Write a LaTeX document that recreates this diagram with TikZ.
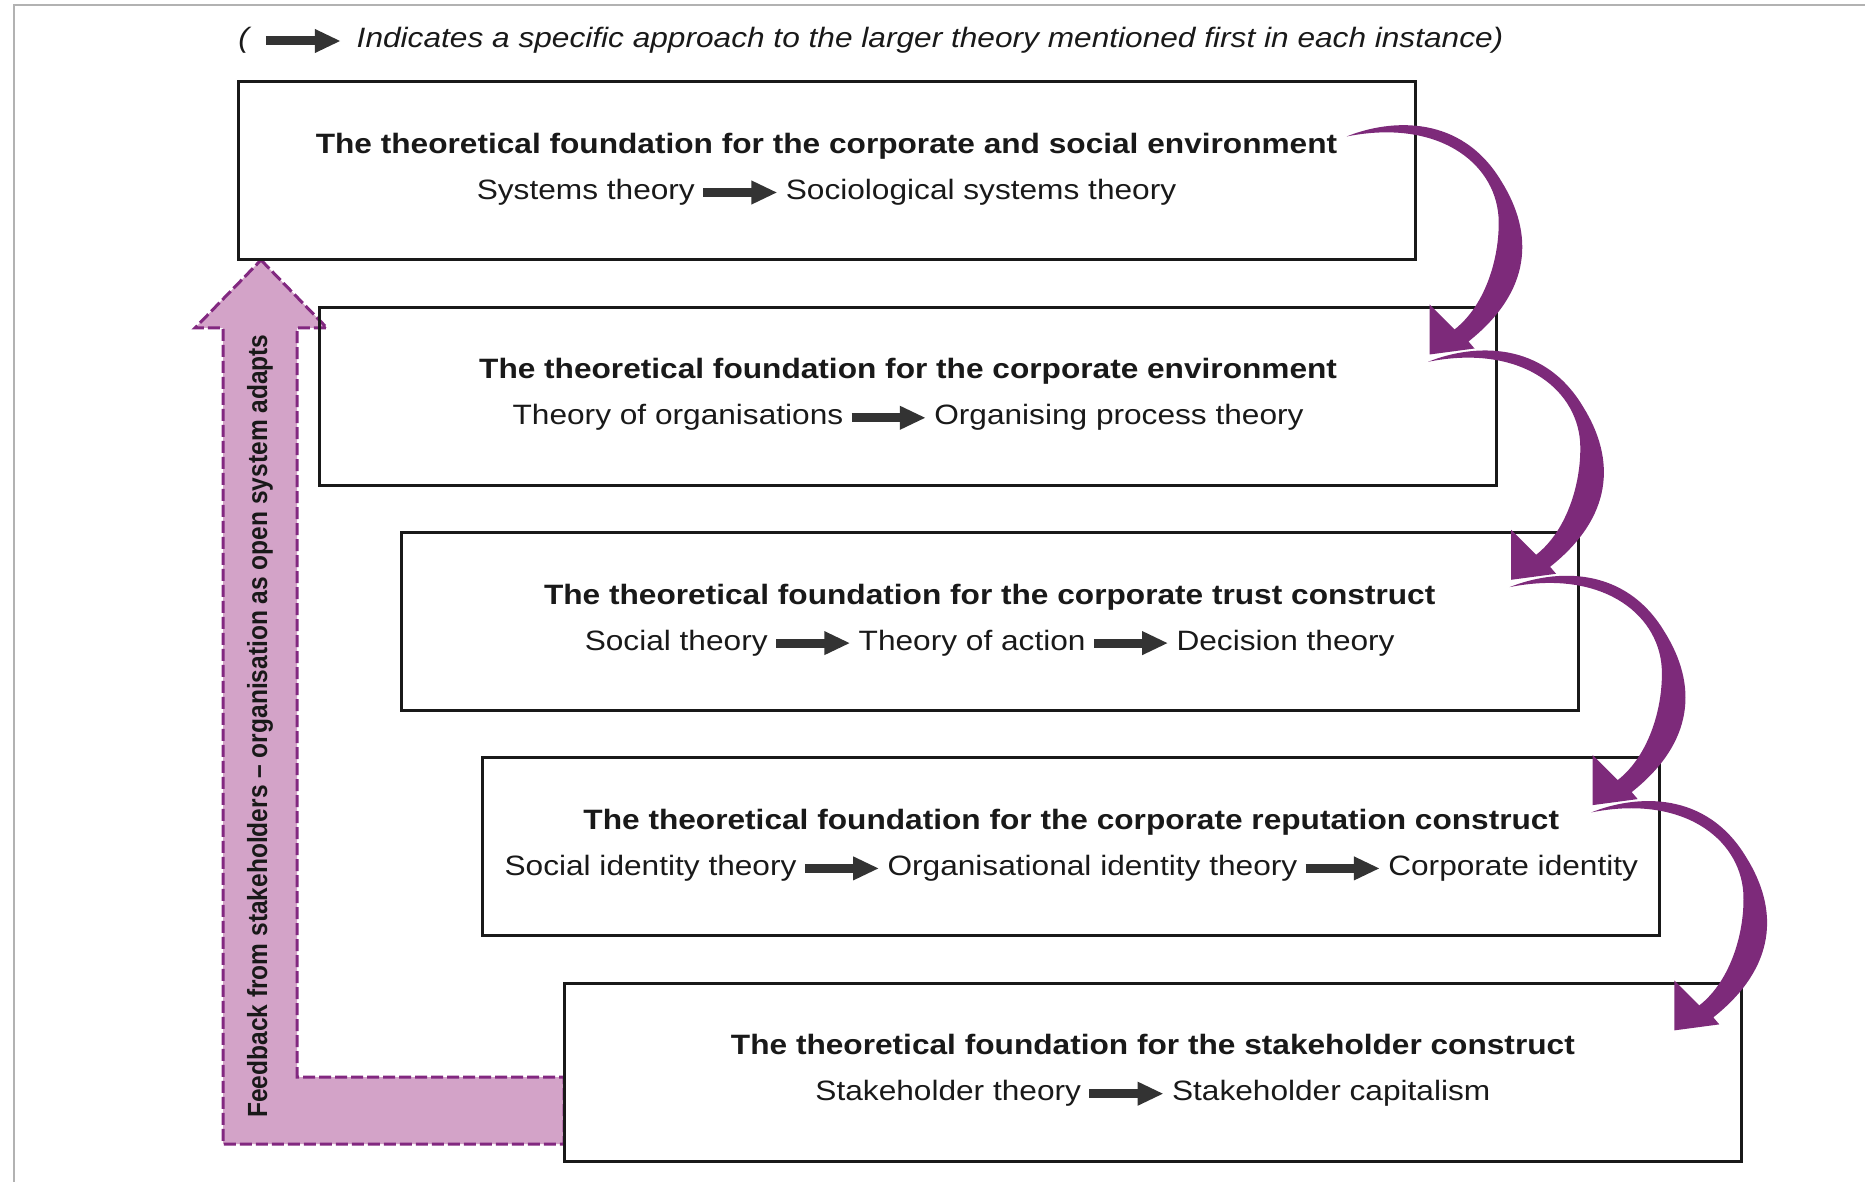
\documentclass[tikz,border=0pt]{standalone}
\usepackage{fontspec}
\setmainfont{Liberation Sans}[FakeStretch=1.13]
\newfontfamily\fbfont{Liberation Sans}[FakeStretch=0.885]
\usetikzlibrary{positioning,calc,arrows.meta}

\definecolor{arcpurple}{RGB}{125,42,122}
\definecolor{fbfill}{RGB}{211,163,200}
\definecolor{fbline}{RGB}{130,40,128}
\definecolor{arrowgray}{RGB}{51,51,51}

\tikzset{
  box/.style       = {draw=black!90, line width=1.5pt, inner sep=0pt,
                      minimum width=588.5pt, minimum height=89pt},
  title/.style     = {font=\fontsize{14}{17}\selectfont\bfseries,
                      text=black!90, inner sep=0pt, anchor=base},
  theory/.style    = {font=\fontsize{14}{17}\selectfont, text=black!90,
                      inner sep=0pt, text height=10.5pt, text depth=3.5pt},
  note/.style      = {theory, font=\fontsize{14}{17}\selectfont\itshape},
  theoryrow/.style = {inner sep=0pt, column sep=45.5pt},
  approach/.style  = {draw=arrowgray, line width=4.5pt,
                      -{Triangle[length=13pt, width=11pt]},
                      shorten <=4pt, shorten >=4pt},
  feedback/.style  = {fill=fbfill, draw=fbline, line width=1.5pt,
                      dash pattern=on 6pt off 2pt},
  purplearc/.style = {fill=arcpurple}
}

\begin{document}
\begin{tikzpicture}[x=0.5pt, y=-0.5pt]
\useasboundingbox (0,0) rectangle (1865,1182);
\draw[gray!60, line width=1pt] (14,1182) -- (14,5) -- (1865,5);

% legend
\node[note, anchor=base west] (paren) at (238,48) {(};
\node[note, base right=53.5pt of paren] (legend)
  {Indicates a specific approach to the larger theory mentioned first in each instance)};
\draw[approach, shorten <=8.25pt, shorten >=7.75pt] (paren) -- (legend);

% feedback loop
\draw[feedback] (261,260) -- (327,328) -- (297,328) -- (297,1077)
  -- (564,1077) -- (564,1144) -- (223,1144) -- (223,328) -- (195,328) -- cycle;
\node[rotate=90, inner sep=0pt, text=black!90,
      font=\fbfont\fontsize{13.85}{16}\selectfont\bfseries] (fbtext) at (260,726)
  {Feedback from stakeholders – organisation as open system adapts};

% the five foundations
\node[box] (b1) at (826.5,171) {};
\node[box] (b2) at ($(b1)+(81.6,225.3)$) {};
\node[box] (b3) at ($(b2)+(81.6,225.3)$) {};
\node[box] (b4) at ($(b3)+(81.6,225.3)$) {};
\node[box] (b5) at ($(b4)+(81.6,225.3)$) {};

\node[title] (t1) at ([yshift=-36.5pt]b1.north)
  {The theoretical foundation for the corporate and social environment};
\matrix[theoryrow] (m1) at ([yshift=-56pt]b1.north) {
  \node[theory] (systems) {Systems theory}; &
  \node[theory] (sociological) {Sociological systems theory}; \\
};
\draw[approach] (systems) -- (sociological);

\node[title] (t2) at ([yshift=-36.5pt]b2.north)
  {The theoretical foundation for the corporate environment};
\matrix[theoryrow] (m2) at ([yshift=-56pt]b2.north) {
  \node[theory] (organisations) {Theory of organisations}; &
  \node[theory] (organising) {Organising process theory}; \\
};
\draw[approach] (organisations) -- (organising);

\node[title] (t3) at ([yshift=-36.5pt]b3.north)
  {The theoretical foundation for the corporate trust construct};
\matrix[theoryrow] (m3) at ([yshift=-56pt]b3.north) {
  \node[theory] (social) {Social theory}; &
  \node[theory] (action) {Theory of action}; &
  \node[theory] (decision) {Decision theory}; \\
};
\draw[approach] (social) -- (action);
\draw[approach] (action) -- (decision);

\node[title] (t4) at ([yshift=-36.5pt]b4.north)
  {The theoretical foundation for the corporate reputation construct};
\matrix[theoryrow] (m4) at ([yshift=-56pt]b4.north) {
  \node[theory] (socid) {Social identity theory}; &
  \node[theory] (orgid) {Organisational identity theory}; &
  \node[theory] (corpid) {Corporate identity}; \\
};
\draw[approach] (socid) -- (orgid);
\draw[approach] (orgid) -- (corpid);

\node[title] (t5) at ([yshift=-36.5pt]b5.north)
  {The theoretical foundation for the stakeholder construct};
\matrix[theoryrow] (m5) at ([yshift=-56pt]b5.north) {
  \node[theory] (stake) {Stakeholder theory}; &
  \node[theory] (capital) {Stakeholder capitalism}; \\
};
\draw[approach] (stake) -- (capital);

% purple arcs from one foundation to the next
\foreach \a in {b1,b2,b3,b4}
  \fill[purplearc, shift={($(\a.north east)+(-70,56)$)}]
    (0,0) .. controls (45,-18) and (115,-22) .. (155,45)
    .. controls (188,98) and (185,155) .. (122,205)
    -- (128,212) -- (83,218) -- (83,168) -- (108,193)
    .. controls (140,168) and (154,118) .. (152,80)
    .. controls (148,25) and (90,-18) .. (0,0) -- cycle;
\end{tikzpicture}
\end{document}
